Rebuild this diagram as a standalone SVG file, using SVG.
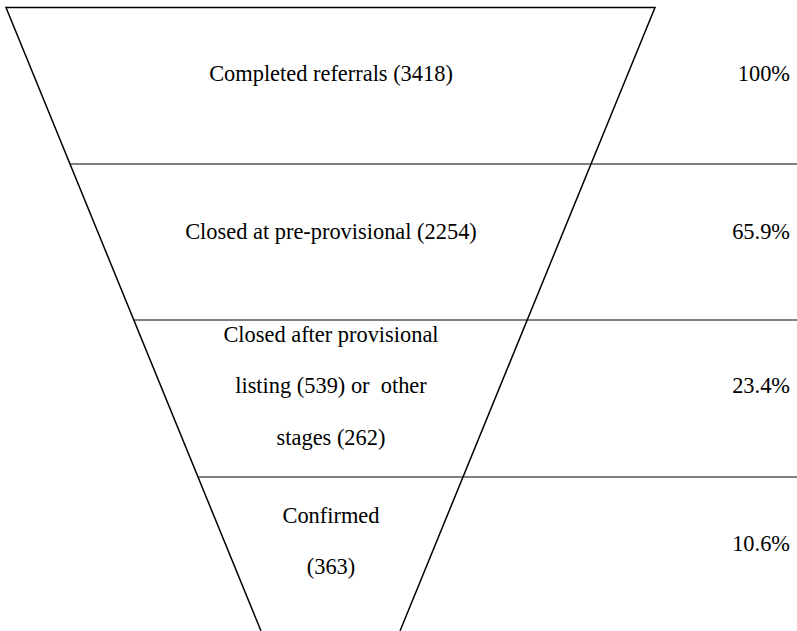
<svg xmlns="http://www.w3.org/2000/svg" width="797" height="631" viewBox="0 0 797 631">
<style>
text{font-family:"Liberation Serif","Times New Roman",serif;font-size:22.4px;fill:#000}
.c{text-anchor:middle}
.p{text-anchor:end}
.sep{stroke:#808080;stroke-width:2;fill:none}
.edge{stroke:#000;stroke-width:1.5;fill:none}
</style>
<rect width="797" height="631" fill="#fff"/>
<g id="connectors">
<line class="sep" x1="70" y1="164" x2="797" y2="164"/>
<line class="sep" x1="134" y1="320" x2="797" y2="320"/>
<line class="sep" x1="198" y1="477" x2="797" y2="477"/>
<path class="edge" d="M261 631 L6 7.5 L655 7.5 L400 631"/>
</g>
<g id="stage1">
<text class="c" x="331" y="81">Completed referrals (3418)</text>
<text class="p" x="790" y="81">100%</text>
</g>
<g id="stage2">
<text class="c" x="331" y="239">Closed at pre-provisional (2254)</text>
<text class="p" x="790" y="239">65.9%</text>
</g>
<g id="stage3">
<text class="c" x="331" y="342">Closed after provisional</text>
<text class="c" x="331" y="393" xml:space="preserve">listing (539) or  other</text>
<text class="c" x="331" y="445">stages (262)</text>
<text class="p" x="790" y="393">23.4%</text>
</g>
<g id="stage4">
<text class="c" x="331" y="523">Confirmed</text>
<text class="c" x="331" y="574">(363)</text>
<text class="p" x="790" y="551">10.6%</text>
</g>
</svg>
